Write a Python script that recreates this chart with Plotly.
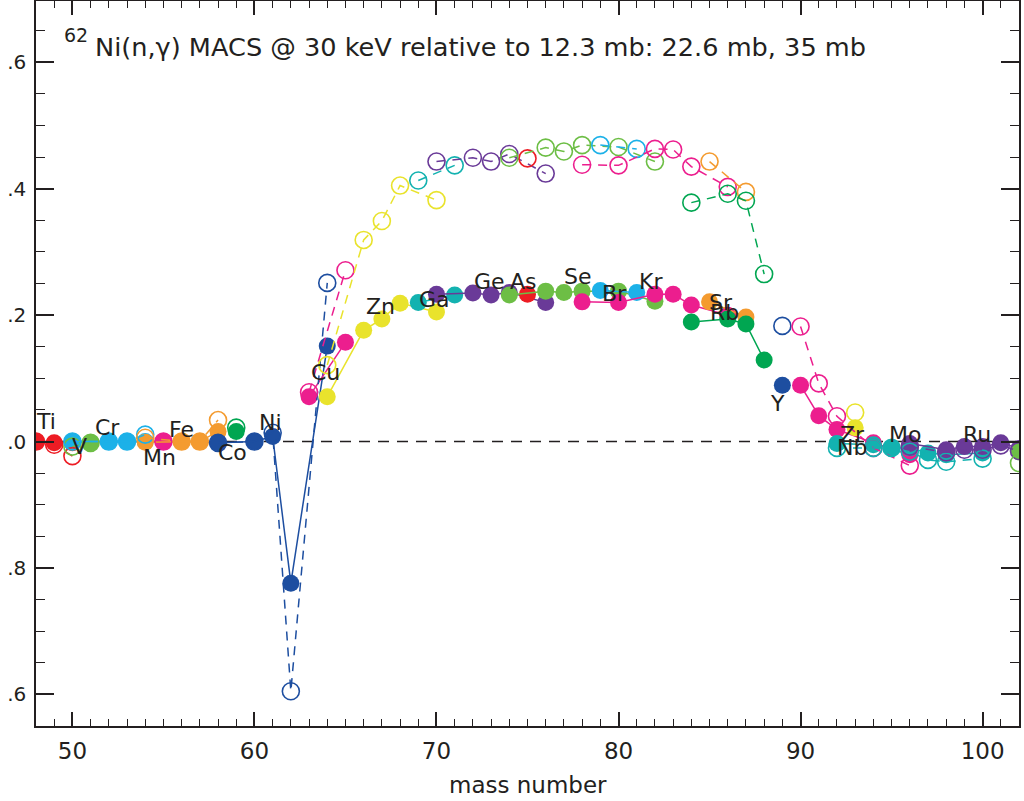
import plotly.graph_objects as go

# ---- data (ratios relative to 12.3 mb) ----
elements = ["Ti", "V", "Cr", "Mn", "Fe", "Co", "Ni", "Cu", "Zn", "Ga", "Ge", "As",
            "Se", "Br", "Kr", "Rb", "Sr", "Y", "Zr", "Nb", "Mo", "Ru", "Pd"]
masses = [
    [48, 49, 50], [50, 51], [50, 52, 53, 54], [55], [54, 56, 57, 58], [59],
    [58, 60, 61, 62, 64], [63, 65], [64, 66, 67, 68, 70], [69, 71],
    [70, 72, 73, 74, 76], [75], [74, 76, 77, 78, 80, 82], [79, 81],
    [78, 80, 82, 83, 84, 86], [85, 87], [84, 86, 87, 88], [89],
    [90, 91, 92, 94, 96], [93], [92, 94, 95, 96, 97, 98, 100],
    [96, 98, 99, 100, 101, 102], [102],
]
# ratio with 22.6 mb (filled symbols, solid lines)
ratio_226 = [
    [1.000, 0.998, 0.998], [0.999, 0.998], [1.000, 1.000, 1.000, 1.000], [1.000],
    [0.999, 1.000, 1.000, 1.016], [1.016],
    [0.998, 1.000, 1.008, 0.776, 1.151], [1.071, 1.157],
    [1.071, 1.176, 1.194, 1.219, 1.205], [1.220, 1.232],
    [1.233, 1.235, 1.232, 1.236, 1.220], [1.233],
    [1.232, 1.238, 1.236, 1.238, 1.238, 1.222], [1.239, 1.236],
    [1.221, 1.220, 1.233, 1.233, 1.216, 1.200], [1.221, 1.197],
    [1.189, 1.194, 1.186, 1.129], [1.089],
    [1.089, 1.041, 1.019, 0.998, 0.979], [1.022],
    [0.997, 0.995, 0.990, 0.990, 0.982, 0.979, 0.982],
    [0.997, 0.987, 0.992, 0.992, 0.998, 0.989], [0.984],
]
# ratio with 35 mb (open symbols, dashed lines)
ratio_35 = [
    [1.000, 0.995, 0.977], [0.992, 0.998], [1.000, 1.000, 1.000, 1.011], [1.000],
    [1.006, 1.000, 1.000, 1.034], [1.022],
    [0.998, 1.000, 1.014, 0.605, 1.251], [1.078, 1.271],
    [1.121, 1.319, 1.349, 1.405, 1.382], [1.413, 1.437],
    [1.443, 1.449, 1.443, 1.455, 1.424], [1.448],
    [1.449, 1.465, 1.459, 1.469, 1.466, 1.443], [1.469, 1.463],
    [1.438, 1.437, 1.463, 1.462, 1.435, 1.403], [1.443, 1.395],
    [1.378, 1.392, 1.381, 1.265], [1.183],
    [1.182, 1.092, 1.040, 0.990, 0.962], [1.046],
    [0.990, 0.990, 0.990, 0.984, 0.971, 0.968, 0.973],
    [0.992, 0.983, 0.987, 0.987, 0.994, 0.985], [0.966],
]
colors = ["#ED1C24", "#6DBE45", "#1CB1E8", "#EC1E8E", "#F49B2F", "#00A651",
          "#1D4EA0", "#EC1E8E", "#E9E32C", "#13B2B0", "#6A3A98", "#ED1C24",
          "#6DBE45", "#1CB1E8", "#EC1E8E", "#F49B2F", "#00A651", "#1D4EA0",
          "#EC1E8E", "#E9E32C", "#13B2B0", "#6A3A98", "#6DBE45"]
label_names = ["Ti", "V", "Cr", "Mn", "Fe", "Co", "Ni", "Cu", "Zn", "Ga", "Ge", "As",
               "Se", "Br", "Kr", "Rb", "Sr", "Y", "Zr", "Nb", "Mo", "Ru"]
label_x = [48.55, 50.4, 51.95, 54.8, 56.0, 58.8, 60.9, 63.9, 66.9, 69.9, 72.9, 74.8,
           77.8, 79.8, 81.8, 85.8, 85.65, 88.75, 92.85, 92.85, 95.75, 99.7]
label_y = [1.032, 0.992, 1.022, 0.975, 1.019, 0.982, 1.030, 1.109, 1.213, 1.224, 1.253,
           1.253, 1.261, 1.235, 1.253, 1.204, 1.220, 1.061, 1.011, 0.990, 1.011, 1.011]

x_range = [48, 102]
y_range = [0.55, 1.697]
y_tickvals = [0.6, 0.8, 1.0, 1.2, 1.4, 1.6]
y_ticktext = [".6", ".8", ".0", ".2", ".4", ".6"]
title_sup = "62"
title_main = "Ni(n,γ) MACS @ 30 keV relative to 12.3 mb: 22.6 mb, 35 mb"
x_title = "mass number"

INK = "#231F20"
FONT = "DejaVu Sans"

fig = go.Figure()

# reference line at 1.0
fig.add_trace(go.Scatter(x=x_range, y=[1.0, 1.0], mode="lines",
                         line=dict(color=INK, width=1.5, dash="11px,8px"),
                         hoverinfo="skip", showlegend=False))

for name, a, v, c in zip(elements, masses, ratio_226, colors):
    fig.add_trace(go.Scatter(x=a, y=v, mode="lines+markers", name=name + " 22.6 mb",
                             line=dict(color=c, width=1.5),
                             marker=dict(symbol="circle", size=17, color=c,
                                         line=dict(width=0)),
                             showlegend=False))

for name, a, v, c in zip(elements, masses, ratio_35, colors):
    fig.add_trace(go.Scatter(x=a, y=v, mode="lines+markers", name=name + " 35 mb",
                             line=dict(color=c, width=1.5, dash="9px,7px"),
                             marker=dict(symbol="circle-open", size=17, color=c,
                                         line=dict(width=1.6, color=c)),
                             showlegend=False))

for t, lx, ly in zip(label_names, label_x, label_y):
    fig.add_annotation(x=lx, y=ly, text=t, showarrow=False,
                       font=dict(family=FONT, size=22, color=INK),
                       xanchor="center", yanchor="middle")

# title: superscript mass number + main text
fig.add_annotation(xref="paper", yref="paper", x=0.026, y=0.953, text=title_sup,
                   showarrow=False, xanchor="left", yanchor="middle",
                   font=dict(family=FONT, size=19, color=INK))
fig.add_annotation(xref="paper", yref="paper", x=0.058, y=0.937, text=title_main,
                   showarrow=False, xanchor="left", yanchor="middle",
                   font=dict(family=FONT, size=25.6, color=INK))
# x-axis title
fig.add_annotation(xref="paper", yref="paper", x=0.5, y=-0.082, text=x_title,
                   showarrow=False, xanchor="center", yanchor="middle",
                   font=dict(family=FONT, size=23, color=INK))

axis_common = dict(showgrid=False, zeroline=False, showline=True, linecolor=INK,
                   linewidth=1.5, mirror="ticks", ticks="inside", tickcolor=INK,
                   tickwidth=1.5, automargin=False)

fig.update_xaxes(range=x_range, dtick=10, tick0=0, ticklen=14,
                 tickfont=dict(family=FONT, size=23, color=INK),
                 ticklabelstandoff=4,
                 minor=dict(dtick=1, tick0=0, ticklen=7, ticks="inside",
                            tickcolor=INK, tickwidth=1.2),
                 **axis_common)
fig.update_yaxes(range=y_range, tickmode="array", tickvals=y_tickvals,
                 ticktext=y_ticktext, ticklen=18,
                 tickfont=dict(family=FONT, size=20, color=INK),
                 ticklabelstandoff=4,
                 minor=dict(dtick=0.05, tick0=0, ticklen=9, ticks="inside",
                            tickcolor=INK, tickwidth=1.2),
                 **axis_common)

fig.update_layout(width=1024, height=801,
                  margin=dict(l=36, r=5, t=1, b=75),
                  plot_bgcolor="white", paper_bgcolor="white",
                  showlegend=False)

fig.write_html("out.html", config={"displayModeBar": False},
               post_script="document.body.style.margin='0px';document.body.style.overflow='hidden';")
